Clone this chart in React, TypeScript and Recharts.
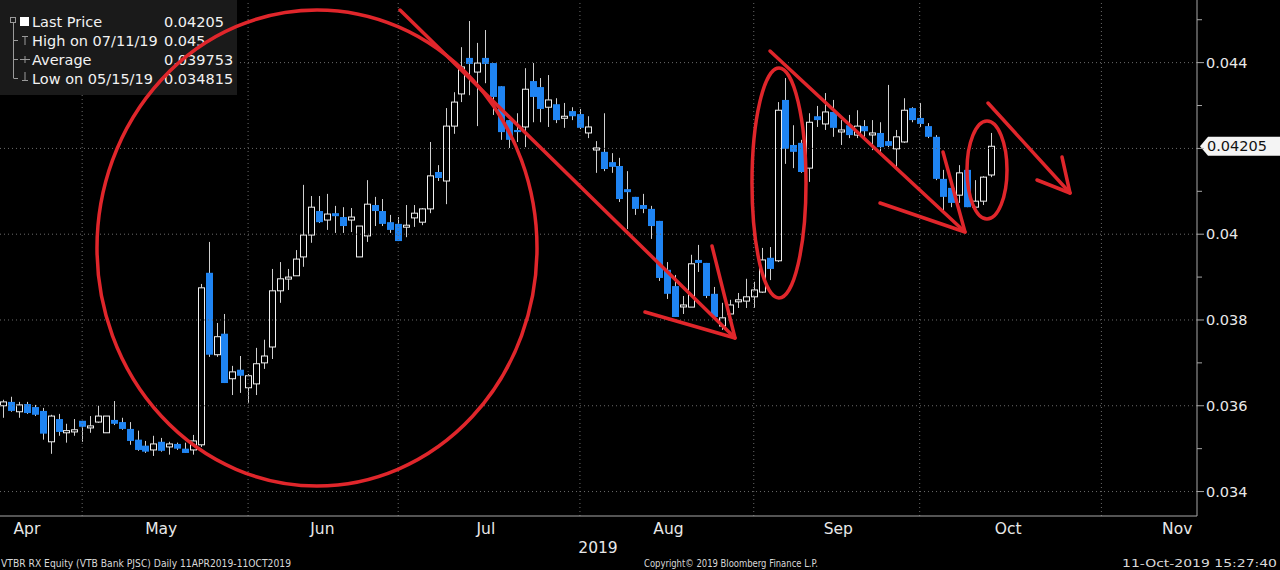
import { ComposedChart, Bar, XAxis, YAxis, ReferenceLine, ReferenceDot } from "recharts";

// daily candles, 17 Apr 2019 .. 11 Oct 2019 (VTBR RX)
const opens = [
  0.03600, 0.03609, 0.03586, 0.03604, 0.03597, 0.03588, 0.03516, 0.03569, 0.03537, 0.03539,
  0.03565, 0.03549, 0.03562, 0.03537, 0.03567, 0.03562, 0.03546, 0.03521, 0.03507, 0.03497,
  0.03516, 0.03504, 0.03511, 0.03500, 0.03497, 0.03509, 0.03910, 0.03719, 0.03768, 0.03663,
  0.03684, 0.03642, 0.03651, 0.03700, 0.03737, 0.03868, 0.03898, 0.03903, 0.03947, 0.03998,
  0.04054, 0.04033, 0.04049, 0.04040, 0.04033, 0.03947, 0.03996, 0.04068, 0.04054, 0.04028,
  0.04024, 0.04017, 0.04038, 0.04028, 0.04059, 0.04145, 0.04124, 0.04252, 0.04327, 0.04411,
  0.04378, 0.04411, 0.04399, 0.04345, 0.04266, 0.04243, 0.04250, 0.04357, 0.04343, 0.04296,
  0.04303, 0.04273, 0.04287, 0.04280, 0.04236, 0.04199, 0.04192, 0.04168, 0.04159, 0.04105,
  0.04087, 0.04068, 0.04059, 0.04031, 0.03917, 0.03879, 0.03833, 0.03830, 0.03940, 0.03933,
  0.03861, 0.03786, 0.03814, 0.03844, 0.03844, 0.03854, 0.03865, 0.03945, 0.03938, 0.04313,
  0.04208, 0.04213, 0.04154, 0.04275, 0.04257, 0.04285, 0.04240, 0.04254, 0.04231, 0.04252,
  0.04234, 0.04236, 0.04217, 0.04199, 0.04215, 0.04294, 0.04271, 0.04252, 0.04227, 0.04129,
  0.04108, 0.04091, 0.04150, 0.04063, 0.04077, 0.04138,
];
const closes = [
  0.03609, 0.03588, 0.03602, 0.03583, 0.03579, 0.03535, 0.03576, 0.03539, 0.03542, 0.03544,
  0.03551, 0.03553, 0.03576, 0.03576, 0.03558, 0.03546, 0.03518, 0.03497, 0.03493, 0.03511,
  0.03495, 0.03511, 0.03500, 0.03490, 0.03518, 0.03875, 0.03719, 0.03761, 0.03653, 0.03679,
  0.03670, 0.03670, 0.03698, 0.03716, 0.03868, 0.03896, 0.03900, 0.03942, 0.03998, 0.04063,
  0.04028, 0.04047, 0.04042, 0.04019, 0.04040, 0.04019, 0.04070, 0.04054, 0.04024, 0.04010,
  0.03984, 0.04021, 0.04049, 0.04059, 0.04136, 0.04131, 0.04252, 0.04308, 0.04390, 0.04397,
  0.04399, 0.04397, 0.04320, 0.04238, 0.04220, 0.04238, 0.04338, 0.04320, 0.04292, 0.04313,
  0.04266, 0.04275, 0.04275, 0.04248, 0.04250, 0.04201, 0.04152, 0.04157, 0.04082, 0.04098,
  0.04059, 0.04059, 0.04019, 0.03898, 0.03861, 0.03807, 0.03835, 0.03931, 0.03933, 0.03856,
  0.03807, 0.03805, 0.03835, 0.03847, 0.03854, 0.03870, 0.03940, 0.03919, 0.04289, 0.04199,
  0.04192, 0.04145, 0.04261, 0.04266, 0.04285, 0.04248, 0.04243, 0.04231, 0.04252, 0.04240,
  0.04236, 0.04203, 0.04206, 0.04227, 0.04289, 0.04266, 0.04257, 0.04227, 0.04129, 0.04087,
  0.04073, 0.04143, 0.04063, 0.04077, 0.04133, 0.04205,
];
const highs = [
  0.03614, 0.03621, 0.03609, 0.03609, 0.03602, 0.03595, 0.03579, 0.03581, 0.03558, 0.03569,
  0.03565, 0.03576, 0.03600, 0.03576, 0.03611, 0.03572, 0.03562, 0.03542, 0.03518, 0.03530,
  0.03525, 0.03516, 0.03514, 0.03514, 0.03532, 0.03884, 0.03982, 0.03793, 0.03814, 0.03693,
  0.03716, 0.03674, 0.03735, 0.03754, 0.03919, 0.03935, 0.03919, 0.03963, 0.04115, 0.04089,
  0.04089, 0.04094, 0.04066, 0.04063, 0.04061, 0.04019, 0.04126, 0.04087, 0.04082, 0.04045,
  0.04040, 0.04068, 0.04068, 0.04061, 0.04215, 0.04161, 0.04294, 0.04331, 0.04436, 0.04497,
  0.04446, 0.04476, 0.04399, 0.04345, 0.04266, 0.04282, 0.04387, 0.04399, 0.04364, 0.04371,
  0.04317, 0.04306, 0.04296, 0.04292, 0.04275, 0.04217, 0.04282, 0.04189, 0.04178, 0.04147,
  0.04087, 0.04094, 0.04066, 0.04031, 0.03935, 0.03905, 0.03856, 0.03952, 0.03975, 0.03933,
  0.03877, 0.03840, 0.03847, 0.03863, 0.03896, 0.03889, 0.03968, 0.03970, 0.04308, 0.04364,
  0.04254, 0.04220, 0.04282, 0.04299, 0.04329, 0.04313, 0.04266, 0.04278, 0.04289, 0.04266,
  0.04266, 0.04261, 0.04348, 0.04243, 0.04317, 0.04296, 0.04306, 0.04259, 0.04231, 0.04150,
  0.04126, 0.04161, 0.04152, 0.04126, 0.04135, 0.04236,
];
const lows = [
  0.03572, 0.03586, 0.03572, 0.03581, 0.03576, 0.03521, 0.03488, 0.03530, 0.03514, 0.03530,
  0.03516, 0.03537, 0.03560, 0.03537, 0.03555, 0.03544, 0.03509, 0.03495, 0.03490, 0.03483,
  0.03493, 0.03486, 0.03497, 0.03490, 0.03486, 0.03504, 0.03714, 0.03714, 0.03653, 0.03625,
  0.03630, 0.03607, 0.03625, 0.03686, 0.03709, 0.03840, 0.03870, 0.03903, 0.03924, 0.03980,
  0.04026, 0.04010, 0.04003, 0.04003, 0.04005, 0.03947, 0.03982, 0.04019, 0.04019, 0.04003,
  0.03984, 0.03993, 0.04017, 0.04021, 0.04049, 0.04124, 0.04070, 0.04234, 0.04308, 0.04324,
  0.04252, 0.04352, 0.04278, 0.04220, 0.04201, 0.04215, 0.04203, 0.04261, 0.04261, 0.04250,
  0.04259, 0.04248, 0.04266, 0.04245, 0.04224, 0.04143, 0.04147, 0.04143, 0.04075, 0.04012,
  0.04045, 0.04049, 0.03989, 0.03891, 0.03849, 0.03807, 0.03814, 0.03830, 0.03912, 0.03851,
  0.03807, 0.03777, 0.03805, 0.03828, 0.03828, 0.03828, 0.03863, 0.03893, 0.03935, 0.04164,
  0.04154, 0.04143, 0.04122, 0.04250, 0.04243, 0.04227, 0.04208, 0.04224, 0.04224, 0.04227,
  0.04196, 0.04189, 0.04203, 0.04157, 0.04213, 0.04261, 0.04250, 0.04224, 0.04126, 0.04056,
  0.04063, 0.04073, 0.04063, 0.04061, 0.04068, 0.04133,
];

// x axis is trading-day index; first trading day of each month, and where the names sit
const monthStarts = [10, 31, 50, 73, 95, 116, 139];
const monthNames = ["Apr", "May", "Jun", "Jul", "Aug", "Sep", "Oct", "Nov"];
const monthLabelAt = [3.0, 20.0, 40.4, 61.1, 84.2, 105.7, 127.2, 148.6];

const priceTicks = [0.034, 0.035, 0.036, 0.037, 0.038, 0.039, 0.04, 0.041, 0.042, 0.043, 0.044, 0.045];
const gridPrices = [0.034, 0.036, 0.038, 0.04, 0.042, 0.044];
const lastPrice = 0.04205;

const legendRows = [
  { label: "Last Price", value: "0.04205" },
  { label: "High on 07/11/19", value: "0.045" },
  { label: "Average", value: "0.039753" },
  { label: "Low on 05/15/19", value: "0.034815" },
];

// hand drawn red marks on top of the chart (pixels)
const redEllipses = [
  { cx: 317, cy: 248, rx: 220, ry: 238 },
  { cx: 779, cy: 183, rx: 27, ry: 115 },
  { cx: 987, cy: 170, rx: 20, ry: 49 },
];
const redStrokes = [
  [[400, 10], [735, 338]],
  [[645, 312], [735, 338], [712, 246]],
  [[770, 51], [965, 232]],
  [[880, 203], [965, 232], [943, 152]],
  [[988, 103], [1070, 193]],
  [[1037, 180], [1070, 193], [1062, 157]],
];

const data = opens.map((o, i) => ({
  i,
  open: o,
  close: closes[i],
  high: highs[i],
  low: lows[i],
  range: [lows[i], highs[i]],
}));

const FONT = "DejaVu Sans";
const BLUE = "#1f84f2";
const WICK = "#d0d0d0";
const GRID = "#6a6a6a";
const AXIS = "#a8a8a8";
const RED = "#e0262b";

function Candle(props: any) {
  const { x, y, width, height, payload } = props;
  if (x == null || !payload) return null;
  const top = Math.min(y, y + height);
  const bottom = Math.max(y, y + height);
  const { open, close, high, low } = payload;
  const span = high - low || 1e-9;
  const toY = (v: number) => top + ((high - v) / span) * (bottom - top);
  const cx = Math.round(x + width / 2) + 0.5;
  const bTop = toY(Math.max(open, close));
  const bBot = toY(Math.min(open, close));
  if (close >= open) {
    const h = Math.max(bBot - bTop, 2);
    return (
      <g>
        <line x1={cx} x2={cx} y1={top} y2={bTop} stroke={WICK} />
        <line x1={cx} x2={cx} y1={bTop + h} y2={bottom} stroke={WICK} />
        <rect x={cx - 3} y={bTop} width={6} height={h} fill="#000" stroke="#f0f0f0" />
      </g>
    );
  }
  return (
    <g>
      <line x1={cx} x2={cx} y1={top} y2={bottom} stroke={WICK} />
      <rect x={cx - 3.5} y={bTop} width={7} height={Math.max(bBot - bTop, 2)} fill={BLUE} />
    </g>
  );
}

function MonthTick(props: any) {
  const { x, y, payload } = props;
  const k = monthLabelAt.indexOf(payload.value);
  return (
    <text x={x} y={y + 18} textAnchor="middle" fill="#e8e8e8" fontFamily={FONT} fontSize={15.5}>
      {monthNames[k]}
    </text>
  );
}

function PriceTick(props: any) {
  const { x, y, payload } = props;
  const v = payload.value;
  const major = Math.round(v * 1000) % 2 === 0;
  return (
    <g>
      <line x1={x} x2={x + (major ? 7 : 5)} y1={y} y2={y} stroke={AXIS} />
      {major && Math.abs(v - 0.042) > 1e-6 && (
        <text x={x + 9} y={y + 5} fill="#e8e8e8" fontFamily={FONT} fontSize={14.5}>
          {String(v)}
        </text>
      )}
    </g>
  );
}

function LastBadge(props: any) {
  const { cx, cy } = props;
  const l = cx + 3;
  return (
    <g>
      <polygon
        points={`${l},${cy} ${l + 8},${cy - 9.5} ${1280},${cy - 9.5} ${1280},${cy + 9.5} ${l + 8},${cy + 9.5}`}
        fill="#f4f4f4"
      />
      <text x={l + 7} y={cy + 5} fill="#111" fontFamily={FONT} fontSize={14.5}>
        {lastPrice.toFixed(5)}
      </text>
    </g>
  );
}

function Overlay() {
  const rowY = [27, 46, 64.5, 83.5];
  return (
    <svg width={1280} height={570} style={{ position: "absolute", left: 0, top: 0, pointerEvents: "none" }}>
      <rect x={0} y={0} width={237} height={95} fill="#1a1a1a" />
      <g stroke="#9a9a9a" strokeWidth={1} fill="none">
        <rect x={10.5} y={17.5} width={5} height={5} />
        <line x1={13.5} x2={13.5} y1={23} y2={78} />
        <line x1={13.5} x2={18} y1={40.5} y2={40.5} />
        <line x1={13.5} x2={18} y1={59.5} y2={59.5} />
        <line x1={13.5} x2={18} y1={78.5} y2={78.5} />
        <line x1={22} x2={28} y1={36.5} y2={36.5} />
        <line x1={25} x2={25} y1={36.5} y2={45} />
        <line x1={20} x2={30} y1={59.5} y2={59.5} />
        <line x1={25} x2={25} y1={56} y2={63} />
        <line x1={25} x2={25} y1={72} y2={80} />
        <line x1={22} x2={28} y1={80.5} y2={80.5} />
      </g>
      <rect x={20} y={17} width={9} height={9} fill="#fff" />
      {legendRows.map((r, k) => (
        <g key={r.label} fontFamily={FONT} fontSize={14.5} fill="#f2f2f2">
          <text x={32} y={rowY[k]}>{r.label}</text>
          <text x={164} y={rowY[k]}>{r.value}</text>
        </g>
      ))}

      <text x={598} y={553} textAnchor="middle" fill="#e8e8e8" fontFamily={FONT} fontSize={15.5}>2019</text>
      <g fontFamily={FONT} fontSize={10.5} fill="#d8d8d8">
        <text x={1} y={567} textLength={290} lengthAdjust="spacingAndGlyphs">
          VTBR RX Equity (VTB Bank PJSC)  Daily 11APR2019-11OCT2019
        </text>
        <text x={644} y={567} textLength={174} lengthAdjust="spacingAndGlyphs">
          Copyright© 2019 Bloomberg Finance L.P.
        </text>
        <text x={1122} y={567} textLength={155} lengthAdjust="spacingAndGlyphs">
          11-Oct-2019 15:27:40
        </text>
      </g>

      <g stroke={RED} strokeWidth={3.5} fill="none" strokeLinecap="round" strokeLinejoin="round">
        {redEllipses.map((e, k) => (
          <ellipse key={k} cx={e.cx} cy={e.cy} rx={e.rx} ry={e.ry} />
        ))}
        {redStrokes.map((s, k) => (
          <polyline key={k} points={s.map((p) => p.join(",")).join(" ")} />
        ))}
      </g>
    </svg>
  );
}

export default function App() {
  return (
    <div style={{ position: "relative", width: 1280, height: 570, background: "#000" }}>
      <style>{"body{margin:0;background:#000}"}</style>
      <ComposedChart width={1280} height={570} data={data} margin={{ top: 0, right: 0, bottom: 24, left: 0 }}>
        <XAxis
          dataKey="i"
          type="number"
          domain={[-0.4, 151.1]}
          allowDataOverflow
          ticks={monthLabelAt}
          interval={0}
          tickLine={false}
          tickSize={0}
          tickMargin={0}
          height={30}
          axisLine={{ stroke: AXIS }}
          tick={<MonthTick />}
        />
        <YAxis
          orientation="right"
          width={83}
          type="number"
          domain={[0.03343, 0.04546]}
          allowDataOverflow
          ticks={priceTicks}
          interval={0}
          tickLine={false}
          tickSize={0}
          tickMargin={0}
          axisLine={{ stroke: AXIS }}
          tick={<PriceTick />}
        />
        {gridPrices.map((p) => (
          <ReferenceLine key={"h" + p} y={p} stroke={GRID} strokeDasharray="1 3" />
        ))}
        {monthStarts.map((m) => (
          <ReferenceLine key={"v" + m} x={m} stroke={GRID} strokeDasharray="1 3" />
        ))}
        <Bar dataKey="range" barSize={6} isAnimationActive={false} shape={(p: any) => <Candle {...p} />} />
        <ReferenceDot x={151.1} y={lastPrice} r={0} ifOverflow="visible" shape={(p: any) => <LastBadge {...p} />} />
      </ComposedChart>
      <Overlay />
    </div>
  );
}
